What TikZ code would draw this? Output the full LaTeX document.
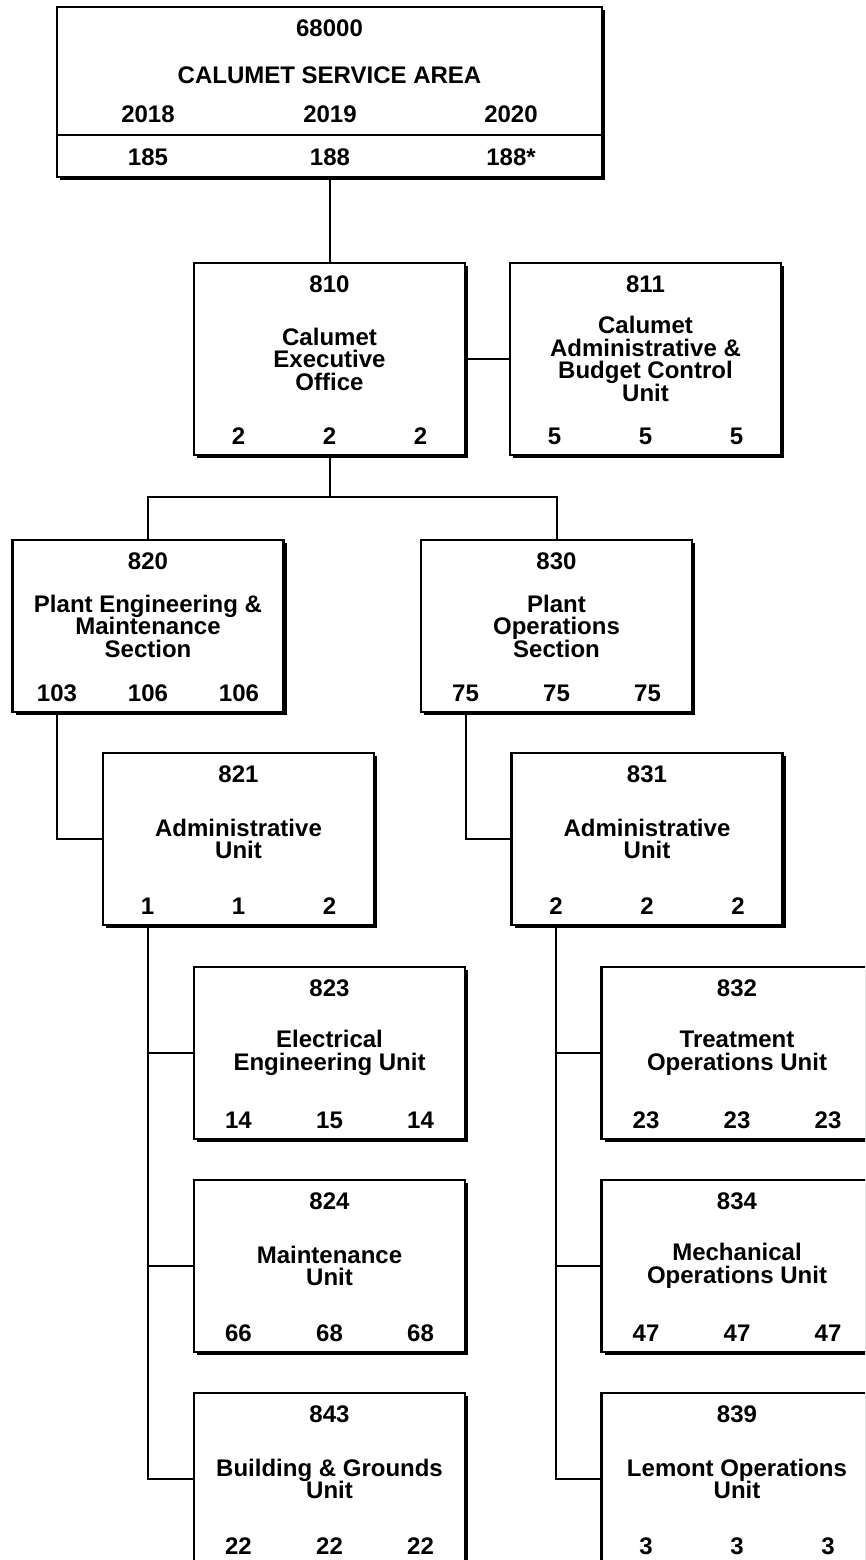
\documentclass[tikz,border=0pt]{standalone}
\usepackage{fontspec}
\setmainfont{Liberation Sans}
\usetikzlibrary{calc,shadows}
\tikzset{
  orgbox/.style={draw=black, line width=2.2pt, fill=white, minimum width=271pt, inner sep=0pt,
    drop shadow={shadow xshift=3pt, shadow yshift=-3pt, opacity=1, fill=black}},
  txt/.style={inner sep=0pt, align=center, font=\bfseries\fontsize{24}{22.5}\selectfont},
  conn/.style={draw=black, line width=2pt}
}
% name, cx, top, height, label, body, n1, n2, n3
\newcommand\obox[9]{%
  \node[orgbox, minimum height=#4pt] (#1) at (#2pt,{-#3pt-#4pt/2}) {};
  \node[txt] (#1l) at ($(#1.north)+(0,-22pt)$) {#5};
  \node[txt] (#1b) at (#1.center) {#6};
  \node[txt] (#1x) at ($(#1.south)+(-91pt,20pt)$) {#7};
  \node[txt] (#1y) at ($(#1.south)+(0pt,20pt)$) {#8};
  \node[txt] (#1z) at ($(#1.south)+(91pt,20pt)$) {#9};
}
\begin{document}
\begin{tikzpicture}
\useasboundingbox (0,0) rectangle (865pt,-1560pt);
\clip (0,0) rectangle (865pt,-1560pt);
% top box
\node[orgbox, minimum width=545pt, minimum height=170pt] (top) at (329.5pt,-92pt) {};
\node[txt] (topl) at (329.5pt,-28pt) {68000};
\node[txt] (topn) at (329.5pt,-75pt) {CALUMET SERVICE AREA};
\node[txt] (y1) at (148pt,-114pt) {2018};
\node[txt] (y2) at (330pt,-114pt) {2019};
\node[txt] (y3) at (511pt,-114pt) {2020};
\node[txt] (v1) at (148pt,-157pt) {185};
\node[txt] (v2) at (330pt,-157pt) {188};
\node[txt] (v3) at (511pt,-157pt) {188*};
\draw[line width=2.2pt] ($(top.north west)+(0,-129pt)$) -- ($(top.north east)+(0,-129pt)$);

\obox{b810}{329.5}{263}{192}{810}{Calumet\\Executive\\Office}{2}{2}{2}
\obox{b811}{645.5}{263}{192}{811}{Calumet\\Administrative \&\\Budget Control\\Unit}{5}{5}{5}
\obox{b820}{148}{540}{172}{820}{Plant Engineering \&\\Maintenance\\Section}{103}{106}{106}
\obox{b830}{556.5}{540}{172}{830}{Plant\\Operations\\Section}{75}{75}{75}
\obox{b821}{238.5}{753}{172}{821}{Administrative\\Unit}{1}{1}{2}
\obox{b831}{647}{753}{172}{831}{Administrative\\Unit}{2}{2}{2}
\obox{b823}{329.5}{967}{172}{823}{Electrical\\Engineering Unit}{14}{15}{14}
\obox{b824}{329.5}{1180}{172}{824}{Maintenance\\Unit}{66}{68}{68}
\obox{b843}{329.5}{1393}{172}{843}{Building \& Grounds\\Unit}{22}{22}{22}
\obox{b832}{737}{967}{172}{832}{Treatment\\Operations Unit}{23}{23}{23}
\obox{b834}{737}{1180}{172}{834}{Mechanical\\Operations Unit}{47}{47}{47}
\obox{b839}{737}{1393}{172}{839}{Lemont Operations\\Unit}{3}{3}{3}

% connectors
\draw[conn] (top.south) -- (b810.north);
\draw[conn] (b810.east) -- (b811.west);
\draw[conn] (b810.south) -- ++(0,-41pt) coordinate (j1);
\draw[conn] (j1) -| (b820.north);
\draw[conn] (j1) -| (b830.north);
\draw[conn] (b820.south -| b820x) |- (b821.west);
\draw[conn] (b830.south -| b830x) |- (b831.west);
\draw[conn] (b821.south -| b821x) |- (b823.west);
\draw[conn] (b821.south -| b821x) |- (b824.west);
\draw[conn] (b821.south -| b821x) |- (b843.west);
\draw[conn] (b831.south -| b831x) |- (b832.west);
\draw[conn] (b831.south -| b831x) |- (b834.west);
\draw[conn] (b831.south -| b831x) |- (b839.west);
\end{tikzpicture}
\end{document}
